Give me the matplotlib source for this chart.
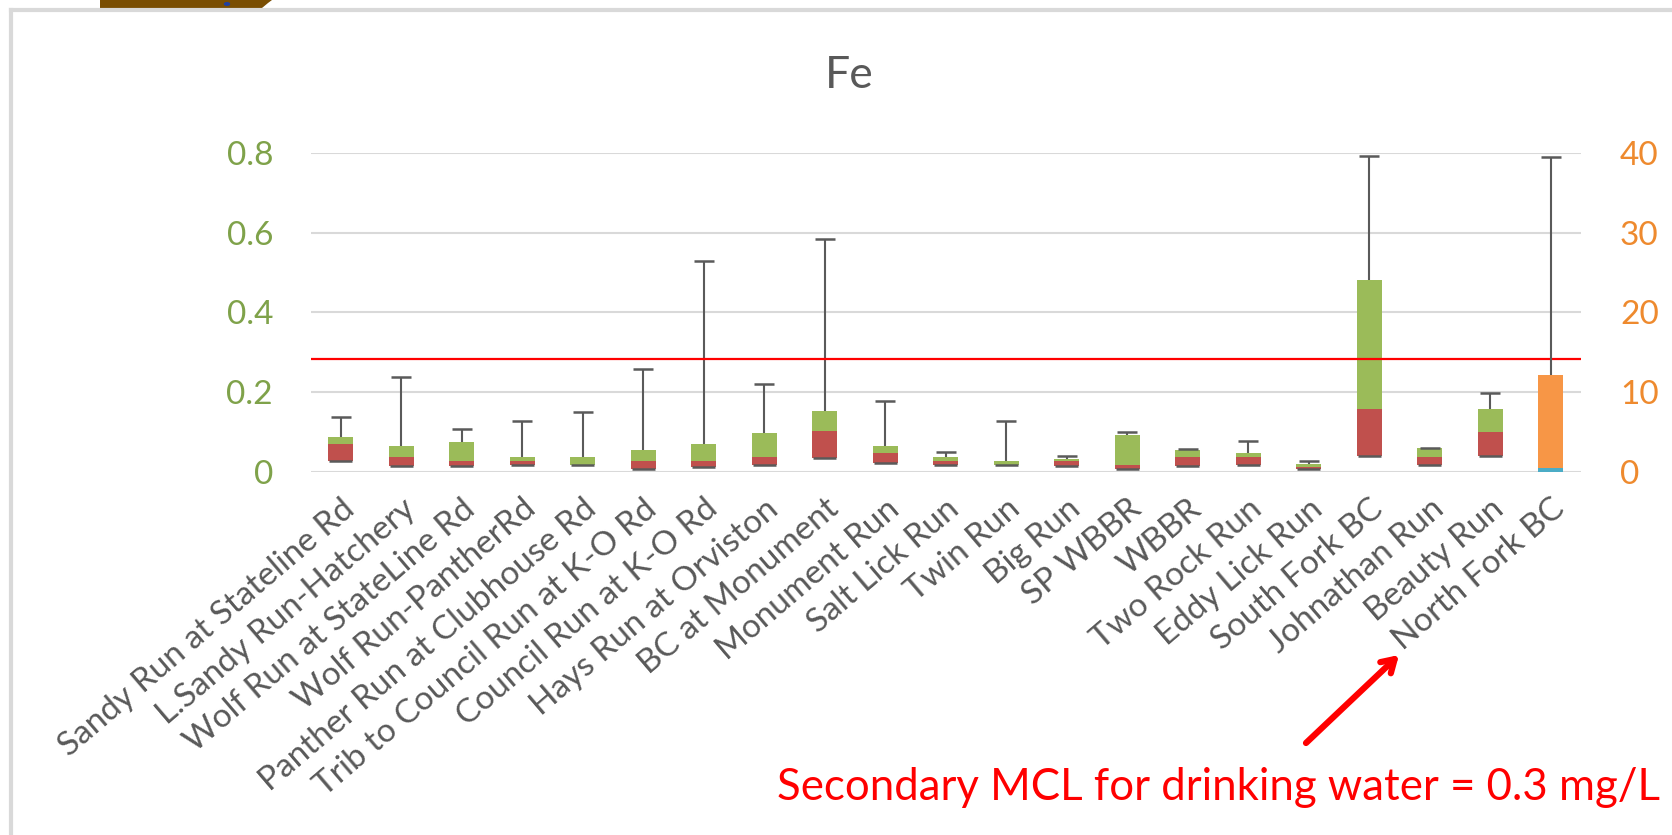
import numpy as np
import matplotlib
matplotlib.use("Agg")
import matplotlib.pyplot as plt
from matplotlib.lines import Line2D
from matplotlib.patches import Polygon, Circle

plt.rcParams['font.family'] = ['Lato', 'DejaVu Sans']

# ---------------- data ----------------
sites = ["Sandy Run at Stateline Rd", "L.Sandy Run-Hatchery", "Wolf Run at StateLine Rd",
         "Wolf Run-PantherRd", "Panther Run at Clubhouse Rd", "Trib to Council Run at K-O Rd",
         "Council Run at K-O Rd", "Hays Run at Orviston", "BC at Monument", "Monument Run",
         "Salt Lick Run", "Twin Run", "Big Run", "SP WBBR", "WBBR", "Two Rock Run",
         "Eddy Lick Run", "South Fork BC", "Johnathan Run", "Beauty Run", "North Fork BC"]

# primary-axis sites (first 20), mg/L
min_fe = [0.028, 0.016, 0.016, 0.018, 0.018, 0.008, 0.013, 0.017, 0.034, 0.022,
          0.017, 0.017, 0.016, 0.008, 0.016, 0.017, 0.007, 0.040, 0.017, 0.040]
q1_fe  = [0.028, 0.016, 0.016, 0.018, 0.018, 0.008, 0.013, 0.017, 0.034, 0.022,
          0.017, 0.017, 0.016, 0.008, 0.016, 0.017, 0.007, 0.040, 0.017, 0.040]
med_fe = [0.070, 0.038, 0.028, 0.028, 0.018, 0.028, 0.028, 0.038, 0.102, 0.047,
          0.028, 0.017, 0.028, 0.018, 0.038, 0.038, 0.013, 0.159, 0.038, 0.099]
q3_fe  = [0.088, 0.064, 0.074, 0.037, 0.037, 0.056, 0.070, 0.098, 0.153, 0.065,
          0.037, 0.028, 0.033, 0.093, 0.056, 0.048, 0.019, 0.482, 0.059, 0.158]
max_fe = [0.137, 0.238, 0.108, 0.128, 0.151, 0.257, 0.529, 0.220, 0.583, 0.178,
          0.049, 0.128, 0.041, 0.100, 0.058, 0.078, 0.027, 0.792, 0.059, 0.198]

# North Fork BC on the secondary axis
nf_q1 = [0.0]
nf_med = [0.5]
nf_q3 = [12.1]
nf_max = [39.4]

mcl_level = 0.283
left_ticks = [0, 0.2, 0.4, 0.6, 0.8]
left_labels = ["0", "0.2", "0.4", "0.6", "0.8"]
right_ticks = [0, 10, 20, 30, 40]

# ---------------- styles ----------------
RED = '#C0504D'
GREEN = '#9BBB59'
ORANGE = '#F79646'
BLUE = '#4BACC6'
WHISK = '#5A5A5A'
GRID = '#D9D9D9'
LGREEN = '#7FA24A'
LORANGE = '#EE8A2E'
TXT = '#595959'

W, H = 1672, 835
fig = plt.figure(figsize=(W / 100, H / 100), dpi=100)
fig.patch.set_facecolor('white')

ax_l, ax_r, ax_t, ax_b = 310.5, 1581, 152.7, 472
ax = fig.add_axes([ax_l / W, 1 - ax_b / H, (ax_r - ax_l) / W, (ax_b - ax_t) / H])
ax2 = ax.twinx()

n_primary = len(q1_fe)
xp = np.arange(n_primary)
q1a, meda, q3a = np.array(q1_fe), np.array(med_fe), np.array(q3_fe)
maxa, mina = np.array(max_fe), np.array(min_fe)
bw = 0.414
cap = 0.166

ax.bar(xp, meda - q1a, bottom=q1a, width=bw, color=RED, zorder=2, linewidth=0)
ax.bar(xp, q3a - meda, bottom=meda, width=bw, color=GREEN, zorder=2, linewidth=0)
ax.vlines(xp, q3a, maxa, color=WHISK, lw=1.5, zorder=3)
ax.hlines(maxa, xp - cap, xp + cap, color=WHISK, lw=1.8, zorder=3)
ax.hlines(mina, xp - 0.19, xp + 0.19, color=WHISK, lw=1.8, zorder=3)

xs = np.array([len(sites) - 1])
nq1, nmed, nq3, nmax = map(np.array, (nf_q1, nf_med, nf_q3, nf_max))
ax2.bar(xs, nmed - nq1, bottom=nq1, width=bw, color=BLUE, zorder=2, linewidth=0)
ax2.bar(xs, nq3 - nmed, bottom=nmed, width=bw, color=ORANGE, zorder=2, linewidth=0)
ax2.vlines(xs, nq3, nmax, color=WHISK, lw=1.5, zorder=3)
ax2.hlines(nmax, xs - cap, xs + cap, color=WHISK, lw=1.8, zorder=3)

ax.axhline(mcl_level, color='#FF0000', lw=1.6, zorder=5)

ax.set_xlim(-0.5, len(sites) - 0.5)
ax.set_ylim(0, 0.8)
ax2.set_ylim(0, 40)
ax.set_yticks(left_ticks)
ax.set_yticklabels(left_labels)
ax2.set_yticks(right_ticks)
ax.yaxis.grid(True, color=GRID, lw=1.5, zorder=0)
ax.set_axisbelow(True)
for a in (ax, ax2):
    for s in a.spines.values():
        s.set_visible(False)
ax.tick_params(axis='y', length=0, pad=27, labelsize=24, labelcolor=LGREEN)
ax2.tick_params(axis='y', length=0, pad=28, labelsize=24, labelcolor=LORANGE)

ax.set_xticks(np.arange(len(sites)))
ax.set_xticklabels(sites, rotation=40.5, ha='right', va='top', rotation_mode='anchor',
                   fontsize=24, color=TXT)
ax.tick_params(axis='x', length=0, pad=15.5)

# title
fig.text(849 / W, 1 - 88.3 / H, "Fe", ha='center', va='baseline', fontsize=32, color=TXT)

# annotation text (fit width)
ann = fig.text(777 / W, 1 - 800 / H, "Secondary MCL for drinking water = 0.3 mg/L",
               ha='left', va='baseline', fontsize=30, color='#FF0000')
fig.canvas.draw()
bb = ann.get_window_extent()
ann.set_fontsize(30 * (1658 - 777) / bb.width)

# arrow
ax.annotate("", xy=(1399 / W, 1 - 655 / H), xycoords='figure fraction',
            xytext=(1306 / W, 1 - 743 / H), textcoords='figure fraction',
            arrowprops=dict(arrowstyle='->,head_length=0.9,head_width=0.55',
                            color='#FF0000', lw=4.5, shrinkA=0, shrinkB=0),
            annotation_clip=False)

# chart frame
fig.add_artist(Line2D([10.5 / W, 10.5 / W], [1 - 10 / H, 0], transform=fig.transFigure,
                      color=GRID, lw=3))
fig.add_artist(Line2D([10.5 / W, 1], [1 - 10 / H, 1 - 10 / H], transform=fig.transFigure,
                      color=GRID, lw=3))
# partial logo at top
logo = [(100, 0), (272, 0), (268, 3), (262, 8), (100, 8)]
fig.add_artist(Polygon([(x / W, 1 - y / H) for x, y in logo], closed=True,
                       transform=fig.transFigure, color='#7A4E02', lw=0))
fig.add_artist(Circle((227 / W, 1 - 4 / H), 2.5 / W, transform=fig.transFigure,
                      color='#1F3FA0'))

fig.savefig("out.png", dpi=100)
